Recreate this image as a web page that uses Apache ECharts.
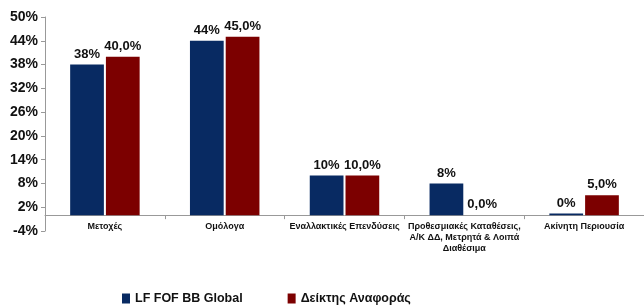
<!DOCTYPE html>
<html>
<head>
<meta charset="utf-8">
<script src="https://cdn.jsdelivr.net/npm/echarts@6/dist/echarts.min.js"></script>
<style>
	html, body { margin: 0; padding: 0; background: #fff; }
	#chart { width: 644px; height: 306px; }
</style>
</head>
<body>
<div id="chart"></div>
<script>
// κατηγορίες
var categories = ['Μετοχές', 'Ομόλογα', 'Εναλλακτικές Επενδύσεις', 'Προθεσμιακές Καταθέσεις,\nΑ/Κ ΔΔ, Μετρητά & Λοιπά\nΔιαθέσιμα', 'Ακίνητη Περιουσία']
var fundValues = [38, 44, 10, 8, 0.4]		// LF FOF BB Global
var benchValues = [40, 45, 10, 0, 5]		// Δείκτης Αναφοράς
var seriesNames = ['LF FOF BB Global', 'Δείκτης Αναφοράς']

var font = '"Liberation Sans", Arial, sans-serif'
var colors = ['#082a62', '#7c0000']

var chart = echarts.init(document.getElementById('chart'))

var option = {}
option.animation = false
option.textStyle = { fontFamily: font }

option.grid = {
	left: 45,
	right: 0,
	top: 17,
	bottom: 75
}

option.legend = {
	top: 292,
	left: 122,
	padding: 0,
	itemGap: 45,
	itemWidth: 8,
	itemHeight: 10,
	icon: 'rect',
	textStyle: { fontFamily: font, fontSize: 12.5, fontWeight: 'bold', color: '#111' },
	data: seriesNames
}

option.xAxis = {
	type: 'category',
	data: categories,
	axisLine: { lineStyle: { color: '#999' } },
	axisTick: { show: true, length: 4, lineStyle: { color: '#999' } },
	axisLabel: {
		interval: 0,
		margin: -10,
		fontFamily: font,
		fontSize: 9,
		fontWeight: 'bold',
		color: '#111',
		lineHeight: 11
	}
}

option.yAxis = {
	type: 'value',
	min: -4,
	max: 50,
	interval: 6,
	axisLine: { show: true, lineStyle: { color: '#999' } },
	axisTick: { show: true, length: 4, lineStyle: { color: '#999' } },
	splitLine: { show: false },
	axisLabel: {
		margin: 7,
		fontFamily: font,
		fontSize: 14,
		fontWeight: 'bold',
		color: '#111',
		formatter: function(v) { return v + '%' }
	}
}

var labelStyle = {
	show: true,
	position: 'top',
	distance: 4,
	fontFamily: font,
	fontSize: 13,
	fontWeight: 'bold',
	color: '#111'
}

option.series = [{
	name: seriesNames[0],
	type: 'bar',
	data: fundValues,
	barGap: '6%',
	barCategoryGap: '42%',
	itemStyle: { color: colors[0] },
	label: Object.assign({}, labelStyle, {
		formatter: function(p) { return Math.round(p.value) + '%' }
	})
}, {
	name: seriesNames[1],
	type: 'bar',
	data: benchValues,
	itemStyle: { color: colors[1] },
	label: Object.assign({}, labelStyle, {
		formatter: function(p) { return p.value.toFixed(1).replace('.', ',') + '%' }
	})
}]

chart.setOption(option)
</script>
</body>
</html>
